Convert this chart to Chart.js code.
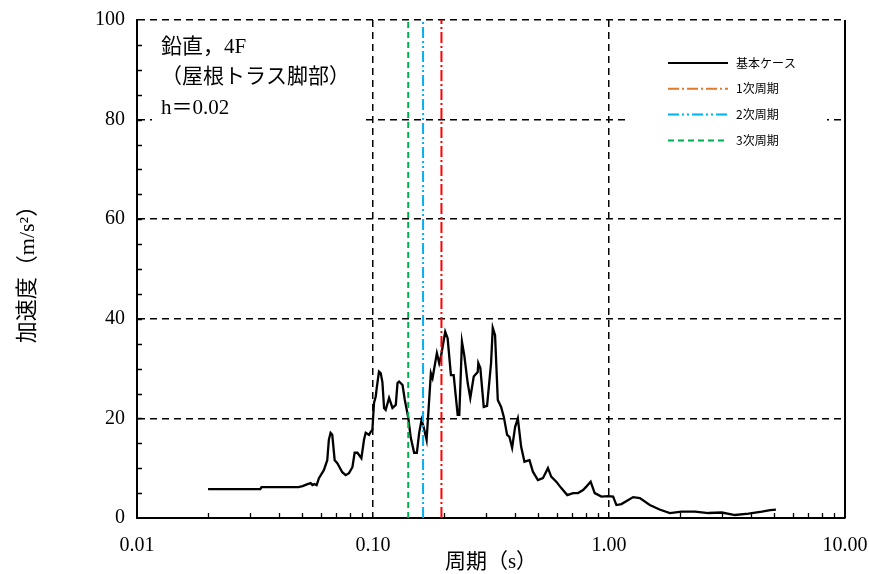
<!DOCTYPE html>
<html>
<head>
<meta charset="utf-8">
<script src="https://cdn.jsdelivr.net/npm/chart.js@4.4.1/dist/chart.umd.min.js"></script>
<style>
  html, body { margin: 0; padding: 0; background: #fff; }
</style>
</head>
<body>
<canvas id="spektrum" width="869" height="574"></canvas>
<script>
// 周期 (s) / 加速度 (m/s2) - 基本ケース
var periods = [0.020, 0.0333, 0.0337, 0.0483, 0.0503, 0.0528, 0.0544, 0.0554, 0.0565, 0.0577,
    0.0590, 0.0619, 0.0640, 0.0650, 0.0661, 0.0672, 0.0688, 0.0706, 0.0741, 0.0766,
    0.0791, 0.0818, 0.0836, 0.0859, 0.0893, 0.0916, 0.0931, 0.0962, 0.0978, 0.0994,
    0.1010, 0.1027, 0.1037, 0.1060, 0.1078, 0.1096, 0.1114, 0.1132, 0.1170, 0.1209,
    0.1249, 0.1270, 0.1290, 0.1334, 0.1364, 0.1409, 0.1446, 0.1494, 0.1534, 0.1569,
    0.1606, 0.1638, 0.1687, 0.1759, 0.1788, 0.1865, 0.1908, 0.1940, 0.2023, 0.2071,
    0.2139, 0.2197, 0.2284, 0.2321, 0.2382, 0.2436, 0.2519, 0.2584, 0.2672, 0.2778,
    0.2794, 0.2850, 0.2946, 0.3043, 0.3164, 0.3217, 0.3290, 0.3379, 0.3490, 0.3584,
    0.3701, 0.3784, 0.3886, 0.4002, 0.4109, 0.4244, 0.4383, 0.4603, 0.4759, 0.4997,
    0.5248, 0.5511, 0.5691, 0.5978, 0.6277, 0.6657, 0.7039, 0.7392, 0.7763, 0.8017,
    0.8362, 0.8698, 0.9285, 0.991, 1.041, 1.075, 1.129, 1.266, 1.351, 1.489,
    1.638, 1.811, 2.032, 2.313, 2.638, 3.005, 3.421, 3.901, 4.445, 4.82, 5.096];
var accel = [5.8, 5.8, 6.2, 6.2, 6.4, 6.8, 7.0, 6.6, 6.8, 6.6,
    8.0, 9.6, 11.6, 15.7, 17.1, 16.7, 11.6, 11.0, 9.2, 8.6,
    9.0, 10.2, 13.1, 13.1, 12.0, 15.7, 17.1, 16.7, 17.3, 17.7,
    23.1, 24.4, 26.1, 29.4, 29.1, 27.3, 22.1, 21.7, 24.1, 22.1,
    22.7, 27.1, 27.4, 26.7, 23.7, 20.3, 16.1, 13.1, 13.1, 17.1,
    19.7, 18.3, 15.7, 29.1, 28.1, 33.1, 31.1, 32.4, 37.4, 36.1,
    28.7, 28.7, 20.7, 20.7, 35.4, 32.7, 27.1, 24.1, 28.4, 29.3,
    31.1, 30.1, 22.3, 22.5, 31.1, 38.2, 36.7, 23.7, 22.3, 20.3,
    16.7, 16.3, 14.1, 18.3, 20.0, 14.3, 11.3, 11.6, 9.3, 7.6,
    8.0, 10.0, 8.3, 7.3, 6.0, 4.6, 5.0, 5.0, 5.6, 6.3,
    7.3, 5.0, 4.3, 4.4, 4.3, 2.6, 2.8, 4.2, 4.0, 2.6,
    1.7, 1.0, 1.3, 1.3, 1.0, 1.1, 0.6, 0.9, 1.3, 1.6, 1.7];

// 1次, 2次, 3次周期 (s)
var mode_periods = [0.195, 0.163, 0.141];
var mode_names = ["1次周期", "2次周期", "3次周期"];
var curve_name = "基本ケース";

var x_ticks = [0.01, 0.1, 1, 10];
var x_tick_labels = ["0.01", "0.10", "1.00", "10.00"];
var y_min = 0;
var y_max = 100;
var y_step = 20;

var note_lines = ["鉛直，4F", "（屋根トラス脚部）", "h＝0.02"];

var serif = "'Liberation Serif', 'Noto Sans CJK JP', serif";
var sans = "'Noto Sans CJK JP', sans-serif";

// Linienstile
var mode_colors = ["#FF0000", "#00B0F0", "#00B050"];
var mode_legend_colors = ["#E07A2C", "#00B0F0", "#00B050"];
var mode_dashes = [[11, 3, 2, 3], [11, 3, 2, 3, 2, 3], [6, 4]];

var curve_data = [];
for (var i = 0; i < periods.length; i++) {
    curve_data.push({x: periods[i], y: accel[i]});
}

var datasets = [];
for (var m = 0; m < mode_periods.length; m++) {
    datasets.push({
        label: mode_names[m],
        data: [{x: mode_periods[m], y: y_min}, {x: mode_periods[m], y: y_max}],
        borderColor: mode_colors[m],
        borderWidth: 2,
        borderDash: mode_dashes[m],
        pointRadius: 0,
        order: 0
    });
}
datasets.push({
    label: curve_name,
    data: curve_data,
    borderColor: "#000",
    borderWidth: 2.3,
    pointRadius: 0,
    tension: 0,
    order: 1
});

// weisse Kaesten fuer Notiz und Legende
var boxes_plugin = {
    id: "boxes",
    beforeDatasetsDraw: function(chart) {
        var ctx = chart.ctx;
        var a = chart.chartArea;
        ctx.save();
        ctx.fillStyle = "#fff";
        ctx.fillRect(a.left + 15, a.top + 2, 210, 102);
        ctx.fillRect(628, a.top + 22, 199, 118);
        ctx.restore();
    },
    afterDraw: function(chart) {
        var ctx = chart.ctx;
        var a = chart.chartArea;
        var xs = chart.scales.x;
        var ys = chart.scales.y;
        ctx.save();

        // Notiz
        ctx.fillStyle = "#000";
        ctx.font = "21px " + serif;
        ctx.textBaseline = "middle";
        ctx.textAlign = "left";
        for (var i = 0; i < note_lines.length; i++) {
            ctx.fillText(note_lines[i], 161, 47 + i * 30.5);
        }

        // Legende
        var names = [curve_name].concat(mode_names);
        var colors = ["#000"].concat(mode_legend_colors);
        var dashes = [[]].concat(mode_dashes);
        ctx.font = "12px " + sans;
        for (var k = 0; k < names.length; k++) {
            var ly = 63 + k * 25.8;
            ctx.strokeStyle = colors[k];
            ctx.lineWidth = 2;
            ctx.setLineDash(dashes[k]);
            ctx.beginPath();
            ctx.moveTo(668, ly);
            ctx.lineTo(728, ly);
            ctx.stroke();
            ctx.setLineDash([]);
            ctx.fillStyle = "#000";
            ctx.fillText(names[k], 736, ly);
        }

        // rechter Rand
        ctx.strokeStyle = "#000";
        ctx.lineWidth = 2;
        ctx.beginPath();
        ctx.moveTo(a.right, a.top);
        ctx.lineTo(a.right, a.bottom);
        ctx.stroke();

        // Hilfsstriche nach innen
        ctx.lineWidth = 1.3;
        ctx.beginPath();
        var decades = [0.01, 0.1, 1];
        for (var d = 0; d < decades.length; d++) {
            for (var n = 2; n <= 9; n++) {
                var px = Math.round(xs.getPixelForValue(n * decades[d])) + 0.5;
                ctx.moveTo(px, a.bottom);
                ctx.lineTo(px, a.bottom - 5);
            }
        }
        for (var v = y_min + 5; v < y_max; v += 5) {
            var py = Math.round(ys.getPixelForValue(v)) + 0.5;
            ctx.moveTo(a.left, py);
            ctx.lineTo(a.left + 5, py);
        }
        ctx.stroke();
        ctx.restore();
    }
};

var ctx = document.getElementById("spektrum").getContext("2d");
var myChart = new Chart(ctx, {
    type: "line",
    data: { datasets: datasets },
    options: {
        responsive: false,
        animation: false,
        devicePixelRatio: 1,
        layout: { padding: { top: 20, right: 24, left: 0, bottom: 0 } },
        plugins: {
            legend: { display: false },
            tooltip: { enabled: false }
        },
        scales: {
            x: {
                type: "logarithmic",
                min: x_ticks[0],
                max: x_ticks[x_ticks.length - 1],
                afterBuildTicks: function(s) {
                    s.ticks = x_ticks.map(function(v) { return {value: v}; });
                },
                afterFit: function(s) {
                    s.height = 56;
                    s.paddingLeft = 0;
                    s.paddingRight = 0;
                },
                ticks: {
                    autoSkip: false,
                    maxRotation: 0,
                    padding: 16,
                    color: "#000",
                    font: { family: serif, size: 20 },
                    callback: function(v) {
                        return x_tick_labels[x_ticks.indexOf(v)];
                    }
                },
                grid: {
                    drawTicks: false,
                    lineWidth: 1.5,
                    color: function(c) {
                        if (!c.tick) return "#000";
                        return (c.tick.value === x_ticks[0] || c.tick.value === x_ticks[x_ticks.length - 1]) ? "rgba(0,0,0,0)" : "#000";
                    }
                },
                border: { display: true, color: "#000", width: 2, dash: [7, 5] },
                title: {
                    display: true,
                    text: "周期（s）",
                    color: "#000",
                    font: { family: serif, size: 21 },
                    padding: { top: 0, bottom: -1 }
                }
            },
            y: {
                min: y_min,
                max: y_max,
                afterFit: function(s) {
                    s.width = 137;
                    s.paddingTop = 0;
                    s.paddingBottom = 0;
                },
                ticks: {
                    stepSize: y_step,
                    padding: 12,
                    color: "#000",
                    font: { family: serif, size: 20 }
                },
                grid: {
                    drawTicks: false,
                    lineWidth: 1.5,
                    color: function(c) {
                        if (!c.tick) return "#000";
                        return c.tick.value === y_min ? "rgba(0,0,0,0)" : "#000";
                    }
                },
                border: { display: true, color: "#000", width: 2, dash: [7, 5] },
                title: {
                    display: true,
                    text: "加速度（m/s²）",
                    color: "#000",
                    font: { family: serif, size: 22 },
                    padding: { top: 15, bottom: 0 }
                }
            }
        }
    },
    plugins: [boxes_plugin]
});
</script>
</body>
</html>
